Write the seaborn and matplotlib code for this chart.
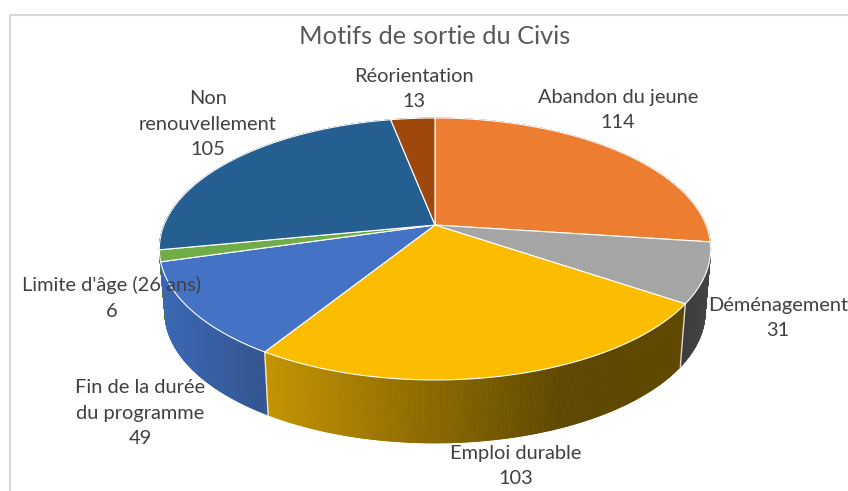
import numpy as np
import matplotlib
matplotlib.use('Agg')
import matplotlib.pyplot as plt
import seaborn as sns
from matplotlib.colors import to_rgb

# Data
categories = ['Abandon du jeune', 'Déménagement', 'Emploi durable', 'Fin de la durée\ndu programme',
              "Limite d'âge (26 ans)", 'Non\nrenouvellement', 'Réorientation']
values = [114, 31, 103, 49, 6, 105, 13]
top_colors = ['#ED7D31', '#A5A5A5', '#FCBD00', '#4472C4', '#70AD47', '#255E91', '#9E480E']
# side wall gradient of each slice, colour at left and right of the x range
side_left = ['#8E4B1D', '#3A3A3A', '#C49400', '#3B68B5', '#4F7A32', '#16385A', '#5F2B08']
side_right = ['#8E4B1D', '#454545', '#5F4800', '#33558F', '#4F7A32', '#16385A', '#5F2B08']
side_x = [(435, 711), (680, 711), (265, 560), (160, 268), (158, 165), (158, 435), (390, 435)]
label_pos = [(618, 110), (778, 318), (516, 466), (140, 413), (112, 298), (208, 124), (414, 89)]

# Geometry of the tilted disc, in pixels
cx, cy = 435, 225
rx, ry, persp = 271, 126.6, 0.183
depth, shrink = 63, 0.98

sns.set_theme(style='white')
plt.rcParams['font.family'] = ['Lato', 'DejaVu Sans']
palette = sns.color_palette(top_colors)


def project(angle, drop=False):
    # angle is clockwise from the back of the disc
    x, y = np.sin(angle), np.cos(angle)
    sx = rx * x / (1 + persp * y)
    sy = ry * y / (1 + persp * y)
    if drop:
        return cx + sx * shrink, cy - sy + depth
    return cx + sx, cy - sy


fig, ax = plt.subplots(figsize=(8.48, 4.91), dpi=100)
fig.subplots_adjust(0, 0, 1, 1)
ax.set_xlim(0, 848)
ax.set_ylim(491, 0)
ax.axis('off')

edges = np.cumsum([0] + values) / sum(values) * 2 * np.pi

# Side wall, back to front
strips = []
for i in range(len(values)):
    steps = np.linspace(edges[i], edges[i + 1], max(int((edges[i + 1] - edges[i]) * 240), 2))
    x0, x1 = side_x[i]
    c0, c1 = np.array(to_rgb(side_left[i])), np.array(to_rgb(side_right[i]))
    for a, b in zip(steps[:-1], steps[1:]):
        xa, ya = project(a)
        xb, yb = project(b)
        xc, yc = project(b, True)
        xd, yd = project(a, True)
        t = np.clip(((xa + xb) / 2 - x0) / (x1 - x0), 0, 1)
        strips.append((ya, [xa, xb, xc, xd], [ya, yb, yc, yd], c0 + (c1 - c0) * t))
for _, xs, ys, col in sorted(strips, key=lambda s: s[0]):
    ax.fill(xs, ys, color=col, lw=0.6, zorder=1)

# Light seams on the visible slice edges
for e in edges:
    xa, ya = project(e)
    xb, yb = project(e, True)
    if np.cos(e) < -0.1 and abs(np.sin(e)) < 0.95:
        ax.plot([xa, xb], [ya, yb], color='white', lw=1, alpha=0.8, zorder=2)

# Top face
for i in range(len(values)):
    angles = np.linspace(edges[i], edges[i + 1], 200)
    xs, ys = project(angles)
    ax.fill(np.r_[cx, xs], np.r_[cy, ys], facecolor=palette[i], edgecolor='white', lw=0.8, zorder=3,
            joinstyle='round')

# Labels
for name, val, (lx, ly) in zip(categories, values, label_pos):
    ax.text(lx, ly, f'{name}\n{val}', ha='center', va='center', color='#404040', fontsize=14.4,
            linespacing=1.62, zorder=5)

ax.text(435, 36, 'Motifs de sortie du Civis', ha='center', va='center', color='#595959', fontsize=18.3, zorder=5)

# Chart frame
ax.plot([10, 10, 848], [491, 14.5, 14.5], color='#D9D9D9', lw=1.5, zorder=0)

fig.savefig('out.png', dpi=100)
